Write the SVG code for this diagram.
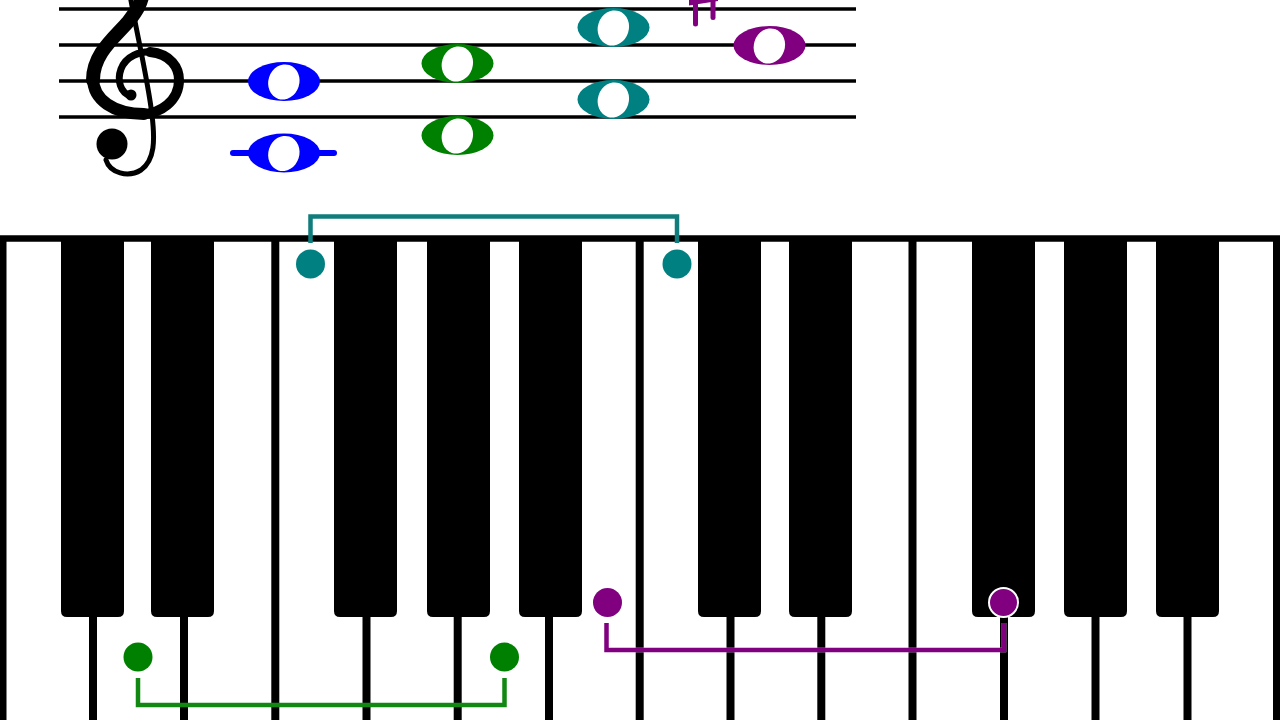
<svg xmlns="http://www.w3.org/2000/svg" xmlns:xlink="http://www.w3.org/1999/xlink" width="1280" height="720" viewBox="0 0 1280 720">
  <style>
    .staff { stroke: #000; stroke-width: 3.5; fill: none; }
    .div { stroke: #000; stroke-width: 8; }
    .hole { fill: #fff; }
    .conn { fill: none; stroke-width: 4.5; stroke-linejoin: miter; }
  </style>
  <defs>
    <path id="bk" d="M0,236 V611 Q0,617 6,617 H57 Q63,617 63,611 V236 Z" fill="#000"/>
    <g id="wn">
      <ellipse cx="0" cy="0" rx="36" ry="19.5"/>
      <ellipse class="hole" cx="0" cy="0.5" rx="15.5" ry="17.8" transform="rotate(18)"/>
    </g>
  </defs>
  <rect width="1280" height="720" fill="#fff"/>

  <g id="staff">
    <line class="staff" x1="59" y1="9" x2="856" y2="9"/>
    <line class="staff" x1="59" y1="45" x2="856" y2="45"/>
    <line class="staff" x1="59" y1="81" x2="856" y2="81"/>
    <line class="staff" x1="59" y1="117" x2="856" y2="117"/>
  </g>

  <g id="clef" fill="none" stroke="#000" stroke-linecap="round">
    <path d="M131,96 C120,93 117,80 121,69 C126,56 140,51 152,52" stroke-width="7"/>
    <path d="M150,52 C171,54 179,68 179,80 C179,101 160,114 142,114" stroke-width="10"/>
    <path d="M144,114 C114,114 93,100 93,78" stroke-width="12"/>
    <path d="M93,80 C93,54 114,38 128,22 C136,12 143,2 143,-12" stroke-width="14"/>
    <path d="M130,-5 C136,30 148,80 152,115 C155,140 155,160 141,170 C128,178 110,173 106,160" stroke-width="5"/>
    <circle cx="131" cy="95" r="5.5" fill="#000" stroke="none"/>
    <circle cx="112" cy="144" r="15.5" fill="#000" stroke="none"/>
  </g>

  <g id="note-C4-G4" fill="#0000ff">
    <line x1="233" y1="153" x2="334" y2="153" stroke="#0000ff" stroke-width="6" stroke-linecap="round"/>
    <use xlink:href="#wn" transform="translate(284,81.5)"/>
    <use xlink:href="#wn" transform="translate(284,153)"/>
  </g>
  <g id="note-D4-A4" fill="#008000">
    <use xlink:href="#wn" transform="translate(457.5,63.5)"/>
    <use xlink:href="#wn" transform="translate(457.5,135.5)"/>
  </g>
  <g id="note-F4-C5" fill="#008080">
    <use xlink:href="#wn" transform="translate(613.5,27.5)"/>
    <use xlink:href="#wn" transform="translate(613.5,99.5)"/>
  </g>
  <g id="note-B4-sharp" fill="#800080">
    <polygon points="689,5.5 718,1 718,-8 689,-3.5"/>
    <line x1="695.5" y1="-20" x2="695.5" y2="24" stroke="#800080" stroke-width="5" stroke-linecap="round"/>
    <line x1="713" y1="-20" x2="713" y2="17.5" stroke="#800080" stroke-width="5" stroke-linecap="round"/>
    <use xlink:href="#wn" transform="translate(769.5,45.5)"/>
  </g>

  <g id="keyboard">
    <line x1="0" y1="238.5" x2="1280" y2="238.5" stroke="#000" stroke-width="6.5"/>
    <g id="white-key-dividers">
      <line class="div" x1="2.5" y1="238" x2="2.5" y2="720"/>
      <line class="div" x1="93" y1="238" x2="93" y2="720"/>
      <line class="div" x1="184" y1="238" x2="184" y2="720"/>
      <line class="div" x1="275.3" y1="238" x2="275.3" y2="720"/>
      <line class="div" x1="366.5" y1="238" x2="366.5" y2="720"/>
      <line class="div" x1="457.7" y1="238" x2="457.7" y2="720"/>
      <line class="div" x1="549" y1="238" x2="549" y2="720"/>
      <line class="div" x1="639.7" y1="238" x2="639.7" y2="720"/>
      <line class="div" x1="730.5" y1="238" x2="730.5" y2="720"/>
      <line class="div" x1="821.3" y1="238" x2="821.3" y2="720"/>
      <line class="div" x1="912.5" y1="238" x2="912.5" y2="720"/>
      <line class="div" x1="1004" y1="238" x2="1004" y2="720"/>
      <line class="div" x1="1095.5" y1="238" x2="1095.5" y2="720"/>
      <line class="div" x1="1187.5" y1="238" x2="1187.5" y2="720"/>
      <line class="div" x1="1277" y1="238" x2="1277" y2="720"/>
    </g>
    <g id="black-keys">
      <use xlink:href="#bk" x="61"/>
      <use xlink:href="#bk" x="151"/>
      <use xlink:href="#bk" x="334"/>
      <use xlink:href="#bk" x="427"/>
      <use xlink:href="#bk" x="519"/>
      <use xlink:href="#bk" x="698"/>
      <use xlink:href="#bk" x="789"/>
      <use xlink:href="#bk" x="972"/>
      <use xlink:href="#bk" x="1064"/>
      <use xlink:href="#bk" x="1156"/>
    </g>
  </g>

  <g id="connectors">
    <path class="conn" stroke="#117c7c" d="M310.5,243 V216.5 H677 V243"/>
    <path class="conn" stroke="#118811" d="M138,678 V705 H504.5 V678"/>
    <path class="conn" stroke="#fff" stroke-width="8.5" d="M606.5,623 V650 H1004 V623"/>
    <path class="conn" stroke="#800080" d="M606.5,623 V650 H1004 V623"/>
  </g>

  <g id="dot-F4"><circle cx="310.5" cy="264" r="14.5" fill="#008080"/></g>
  <g id="dot-C5"><circle cx="677" cy="264" r="14.5" fill="#008080"/></g>
  <g id="dot-D4"><circle cx="138" cy="657" r="14.5" fill="#008000"/></g>
  <g id="dot-A4"><circle cx="504.5" cy="657" r="14.5" fill="#008000"/></g>
  <g id="dot-B4"><circle cx="607.5" cy="602.5" r="14.5" fill="#800080"/></g>
  <g id="dot-Gs5"><circle cx="1003.5" cy="602.5" r="14.5" fill="#800080" stroke="#fff" stroke-width="2"/></g>
</svg>
